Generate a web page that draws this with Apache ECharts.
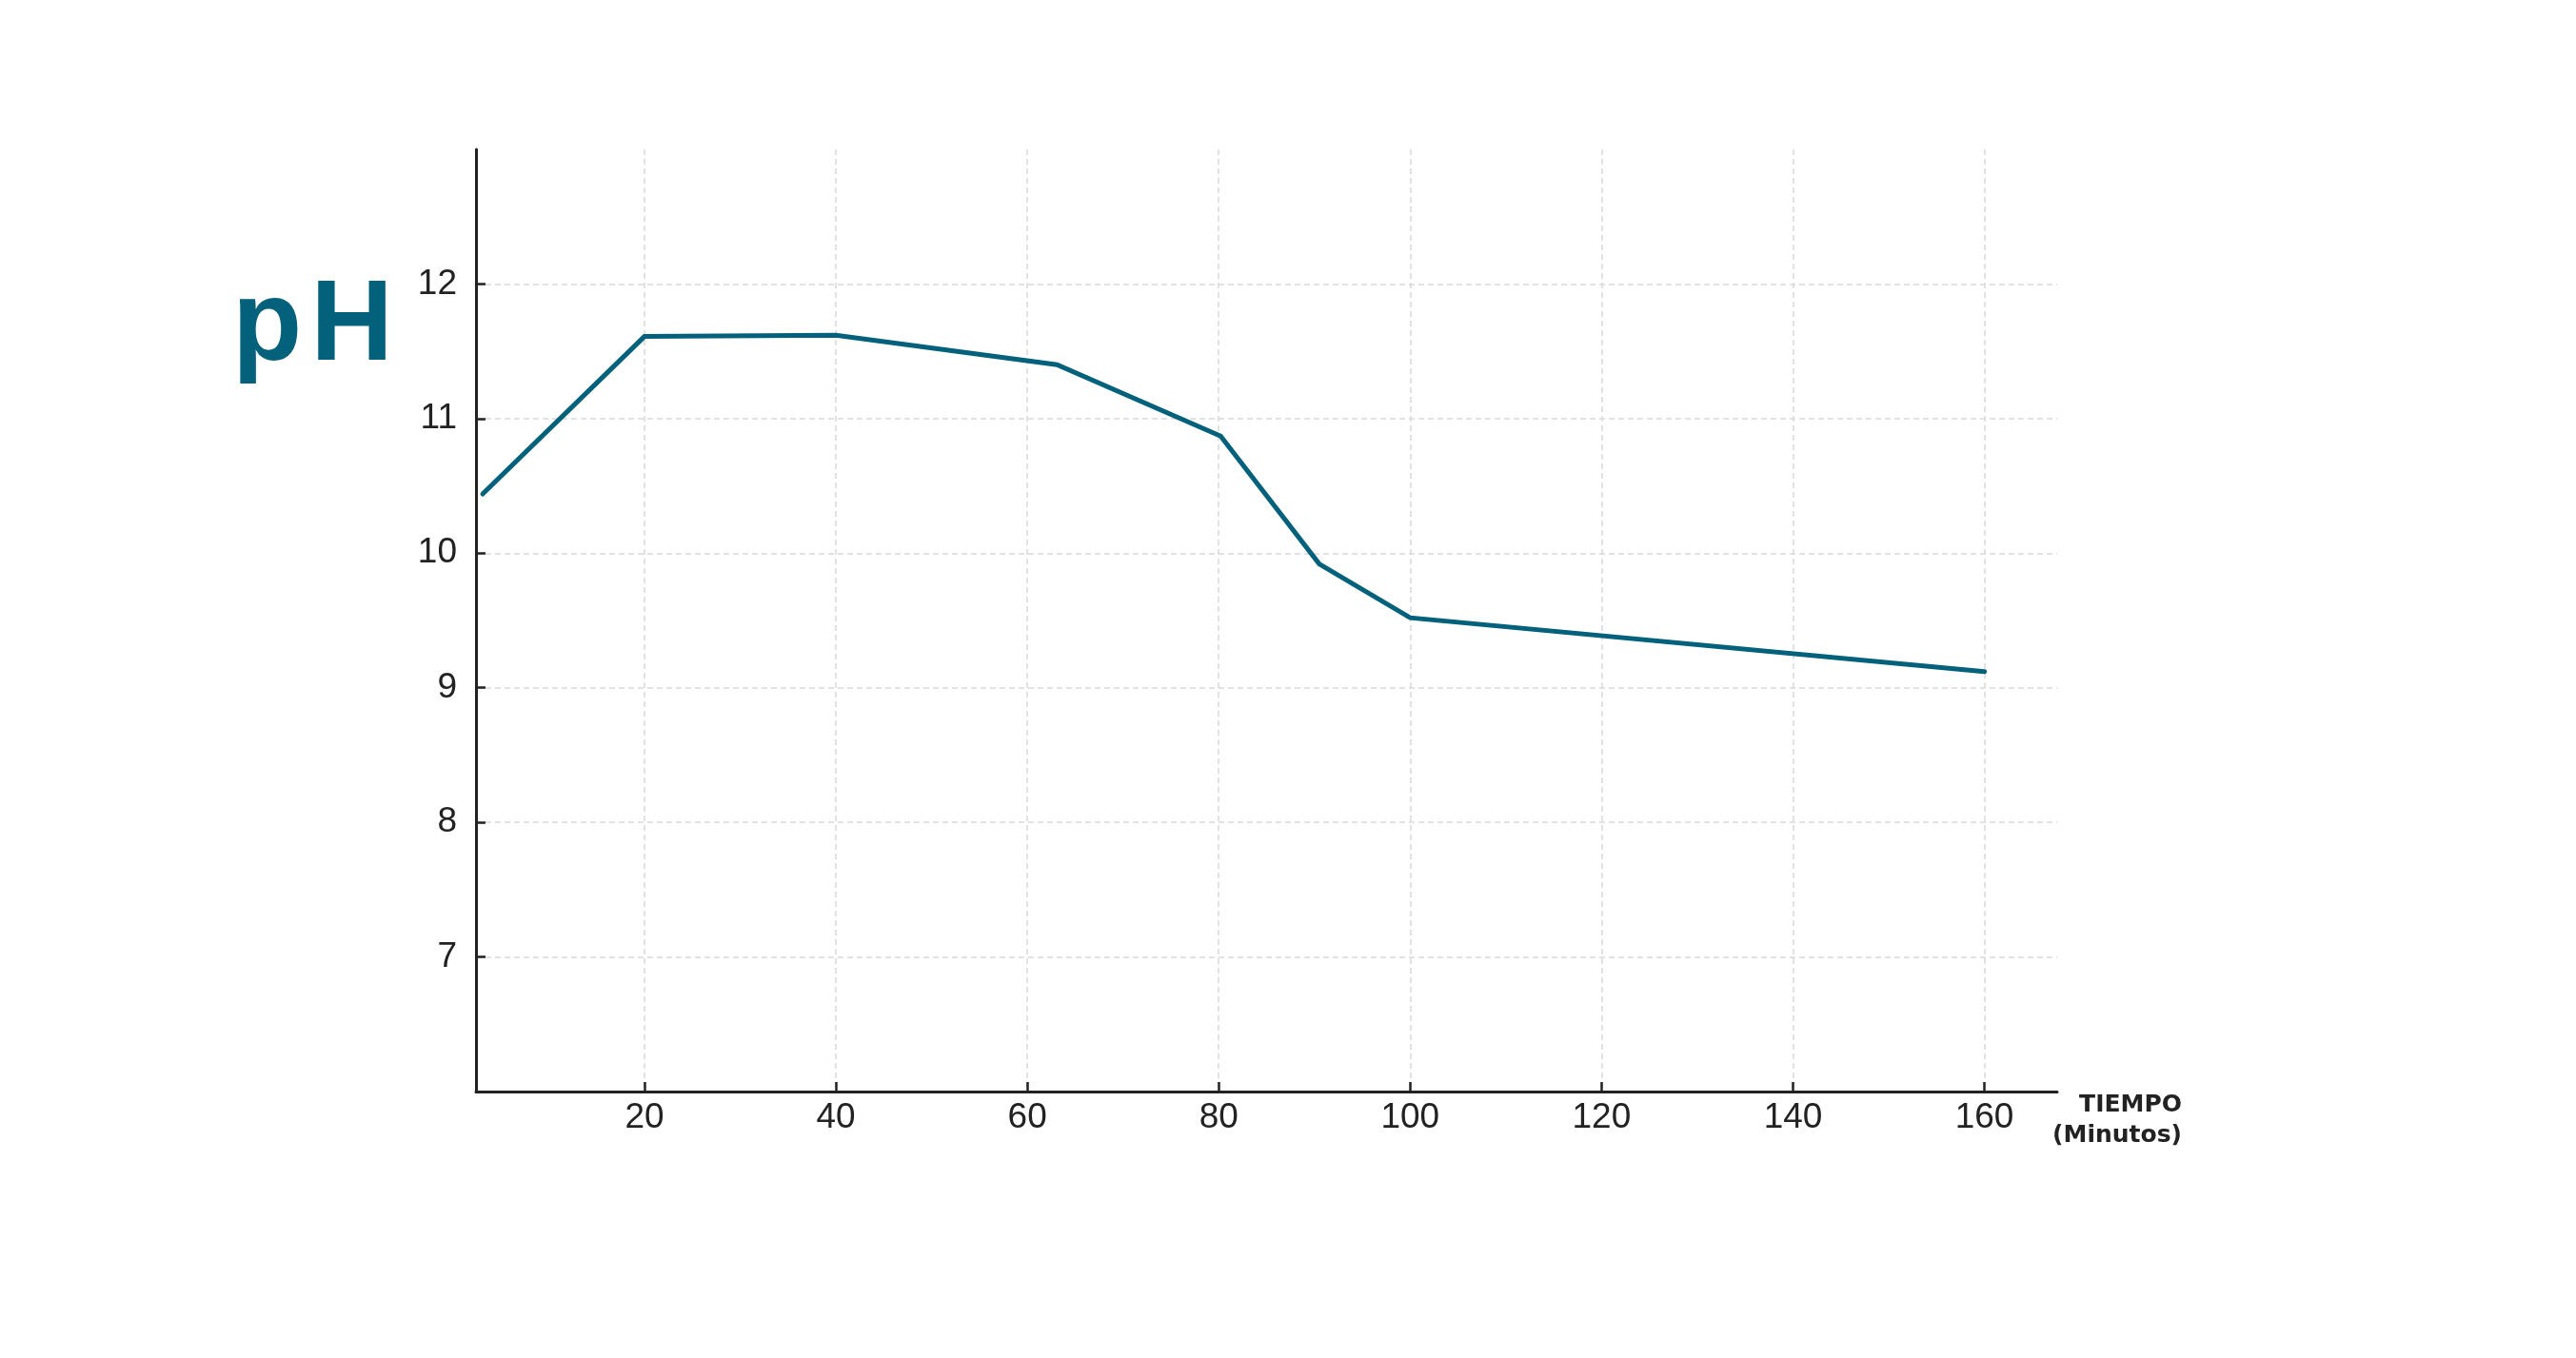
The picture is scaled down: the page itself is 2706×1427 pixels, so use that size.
<!DOCTYPE html>
<html>
<head>
<meta charset="utf-8">
<script src="https://cdn.jsdelivr.net/npm/echarts@6/dist/echarts.min.js"></script>
<style>html,body{margin:0;padding:0;background:#fff;}#chart{width:2706px;height:1427px;}</style>
</head>
<body>
<div id="chart"></div>
<script>
// Data
const timeMinutes = [3.1, 20, 40, 63.1, 80.2, 90.5, 100, 160];
const phValues    = [10.44, 11.61, 11.62, 11.40, 10.87, 9.92, 9.52, 9.12];
const xTicks = [20, 40, 60, 80, 100, 120, 140, 160];
const yTicks = [7, 8, 9, 10, 11, 12];
const xRange = [2.4, 167.6];
const yRange = [6, 13];

const teal = '#04617b';
const axisColor = '#222222';
const gridLine = {show: true, lineStyle: {color: '#d9d9d9', width: 1.5, type: [6, 4]}};
const chart = echarts.init(document.getElementById('chart'), null, {renderer: 'canvas'});
chart.setOption({
  backgroundColor: '#ffffff',
  animation: false,
  grid: {left: 500, right: 545, top: 157, bottom: 280, containLabel: false},
  xAxis: {
    type: 'value', min: xRange[0], max: xRange[1],
    name: 'TIEMPO\n(Minutos)', nameLocation: 'end', nameGap: 131,
    nameTextStyle: {fontFamily: 'DejaVu Sans', fontWeight: 'bold', fontSize: 25, color: '#222',
      align: 'right', verticalAlign: 'top', lineHeight: 32, padding: [-2, 0, 0, 0]},
    axisLine: {show: true, lineStyle: {color: axisColor, width: 3}},
    axisTick: {show: true, inside: true, length: 10, customValues: xTicks, lineStyle: {color: axisColor, width: 2.5}},
    axisLabel: {customValues: xTicks, margin: 9, fontFamily: 'Liberation Sans', fontSize: 37, color: '#222'},
    splitLine: gridLine
  },
  yAxis: {
    type: 'value', min: yRange[0], max: yRange[1],
    axisLine: {show: true, lineStyle: {color: axisColor, width: 3}},
    axisTick: {show: true, inside: true, length: 10, customValues: yTicks, lineStyle: {color: axisColor, width: 2.5}},
    axisLabel: {customValues: yTicks, margin: 20, fontFamily: 'Liberation Sans', fontSize: 37, color: '#222'},
    splitLine: gridLine
  },
  graphic: [{
    type: 'text', left: 244, top: 285,
    style: {
      text: '{p|p}{h|H}',
      rich: {
        p: {fontFamily: 'Liberation Sans', fontWeight: 'bold', fontSize: 120, fill: teal, padding: [0, 9, 0, 0]},
        h: {fontFamily: 'Liberation Sans', fontWeight: 'bold', fontSize: 120, fill: teal}
      }
    }
  }],
  series: [{
    type: 'line',
    data: timeMinutes.map((t, i) => [t, phValues[i]]),
    showSymbol: false, symbol: 'none',
    lineStyle: {color: teal, width: 5, cap: 'round', join: 'miter'}
  }]
});
</script>
</body>
</html>
